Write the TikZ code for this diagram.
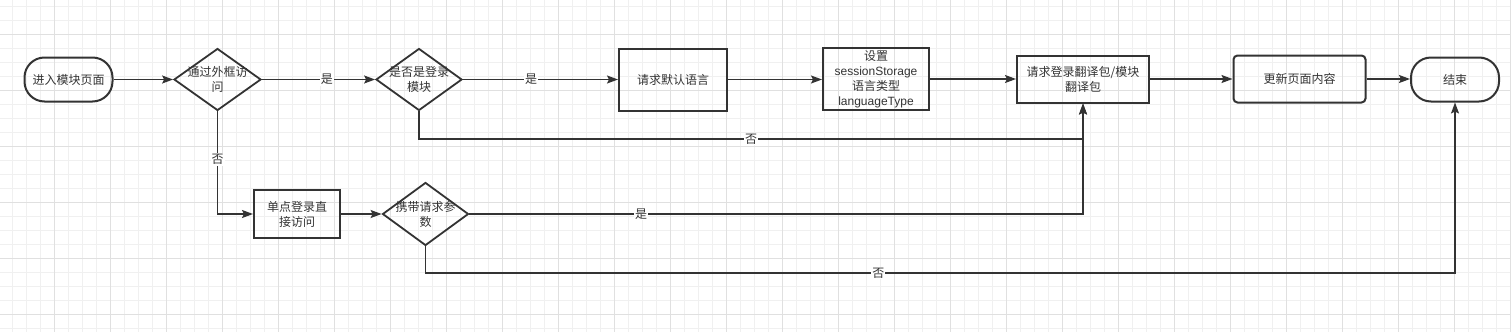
\documentclass[tikz,border=0pt]{standalone}
\usepackage{fontspec}
\setmainfont{Liberation Sans}
\newfontfamily\cjk{Noto Sans CJK SC}
\usetikzlibrary{shapes.geometric,arrows.meta}
\definecolor{ln}{HTML}{333333}
\definecolor{tx}{HTML}{333333}
\definecolor{gmin}{HTML}{F0F0F0}
\definecolor{gmaj}{HTML}{E0E0E0}
\begin{document}
\begin{tikzpicture}[x=1pt,y=-1pt,
  txt/.style={text=tx, font=\cjk\fontsize{12}{15}\selectfont, align=center},
  base/.style={txt, draw=ln, line width=2pt, inner sep=0pt},
  term/.style={base, rounded corners=20pt, minimum width=88pt, minimum height=44pt},
  dec/.style={draw=ln, line width=1.8pt, diamond, inner sep=0pt},
  dtext/.style={txt, inner sep=0pt},
  arr/.style={draw=ln, line width=1.5pt, -{Stealth[length=11pt,width=8pt,inset=2pt]}},
  lbl/.style={txt, fill=white, inner sep=1pt}]
\useasboundingbox (0,0) rectangle (1511,332);
\fill[white] (0,0) rectangle (1511,332);
\foreach \i in {0,...,107} \draw[gmin, line width=1pt] ({12.7+14*\i},0) -- ({12.7+14*\i},332);
\foreach \j in {0,...,23} \draw[gmin, line width=1pt] (0,{6+14*\j}) -- (1511,{6+14*\j});
\foreach \i in {0,...,26} \draw[gmaj, line width=1pt] ({54.7+56*\i},0) -- ({54.7+56*\i},332);
\foreach \j in {0,...,5} \draw[gmaj, line width=1pt] (0,{34+56*\j}) -- (1511,{34+56*\j});

% top row
\node[term] (start) at (68.5,79.5) {进入模块页面};
\node[dec, minimum width=87pt, minimum height=62pt,
      label={[dtext]center:{通过外框访\\问}}] (d1) at (217.5,79.5) {};
\node[dec, minimum width=86pt, minimum height=62pt,
      label={[dtext]center:{是否是登录\\模块}}] (d2) at (419,79.5) {};
\node[base, minimum width=108pt, minimum height=62pt] (b1) at (673,79.5) {请求默认语言};
\node[base, minimum width=106pt, minimum height=62pt] (b2) at (876,79) {设置\\\rmfamily sessionStorage\\语言类型\\\rmfamily languageType};
\node[base, minimum width=132pt, minimum height=47pt] (b3) at (1083,79) {请求登录翻译包/模块\\翻译包};
\node[base, rounded corners=4pt, minimum width=132pt, minimum height=47pt] (b4) at (1299.5,79) {更新页面内容};
\node[term, minimum width=88pt] (end) at (1455,79.5) {结束};

% bottom row
\node[base, minimum width=86pt, minimum height=48pt] (b5) at (297,214) {单点登录直\\接访问};
\node[dec, minimum width=86pt, minimum height=63pt,
      label={[dtext]center:{携带请求参\\数}}] (d3) at (425.5,214) {};

\coordinate (k1) at (1083,139);
\coordinate (k3) at (1455,273);

% connectors
\draw[arr] (start) -- (d1);
\draw[arr] (d1) -- node[lbl,pos=0.575]{是} (d2);
\draw[arr] (d2) -- node[lbl,pos=0.44]{是} (b1);
\draw[arr] (b1.east) -- (b1.east -| b2.west);
\draw[arr] (b2) -- (b3);
\draw[arr] (b3) -- (b4);
\draw[arr] (b4.east) -- (b4.east -| end.west);
\draw[arr] (d2.south) |- node[lbl,pos=0.75]{否} (k1) -- (b3.south);
\draw[arr] (d1.south) |- node[lbl,pos=0.235]{否} (b5.west);
\draw[arr] (b5) -- (d3);
\draw[arr] (d3.east) -| node[lbl,pos=0.14]{是} (b3.south);
\draw[arr] (d3.south) |- node[lbl,pos=0.72]{否} (k3) -- (end.south);
\end{tikzpicture}
\end{document}
